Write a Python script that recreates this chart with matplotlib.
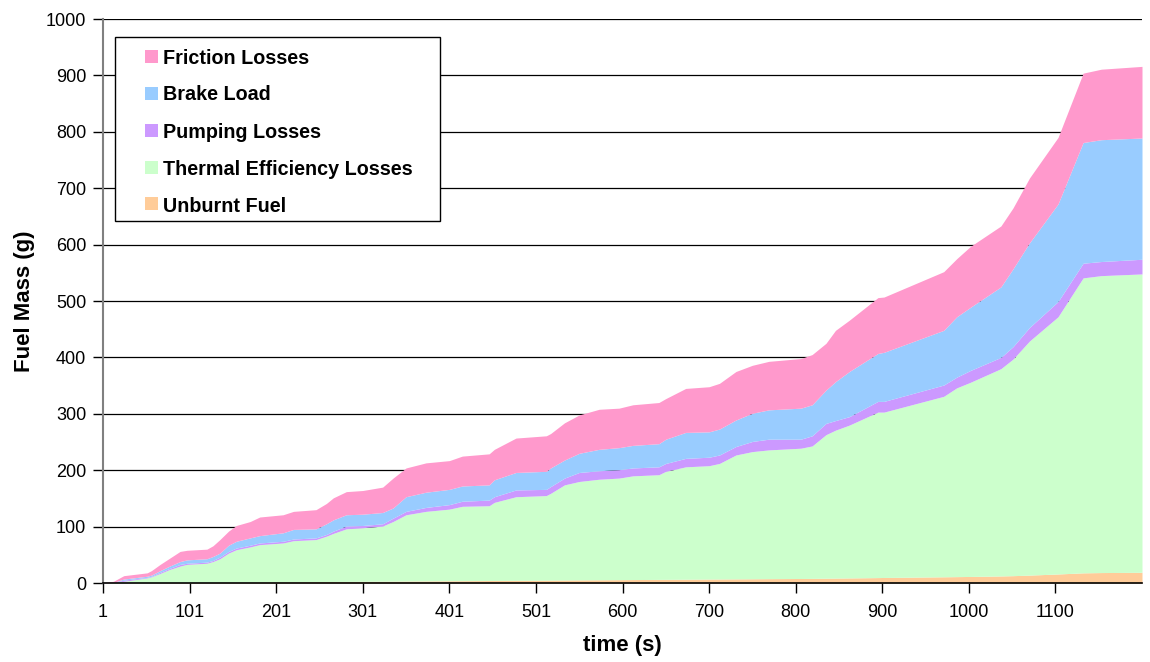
import numpy as np
import matplotlib.pyplot as plt
from matplotlib.patches import Rectangle

plt.rcParams['font.family'] = ['Liberation Sans', 'DejaVu Sans']

# time positions (s) and the top edge of each stacked band (g)
time = [1, 13, 25, 52, 57, 67, 78, 90, 98, 121, 128, 136, 146, 155, 171, 182,
        209, 221, 247, 259, 267, 282, 301, 324, 336, 351, 374, 401, 416, 447,
        453, 478, 513, 518, 534, 551, 574, 597, 613, 643, 651, 674, 701, 713,
        732, 751, 770, 807, 820, 836, 847, 863, 896, 903, 972, 987, 1003, 1038,
        1052, 1071, 1104, 1133, 1154, 1201]

unburnt_top = [0, 0, 0.3, 0.5, 0.5, 0.7, 0.8, 0.9, 1, 1.2, 1.3, 1.4, 1.5, 1.6,
               1.7, 1.8, 2.1, 2.2, 2.5, 2.6, 2.7, 2.8, 3, 3.2, 3.3, 3.5, 3.7, 4,
               4.1, 4.4, 4.5, 4.7, 5, 5.1, 5.3, 5.5, 5.7, 5.9, 6.1, 6.4, 6.5,
               6.7, 7, 7.1, 7.3, 7.5, 7.7, 8, 8.2, 8.5, 8.7, 9, 9.6, 9.8, 11,
               11.3, 11.6, 12.5, 13, 14, 16, 18, 18.5, 19]
thermal_top = [0, 1, 3, 9, 11, 17, 24, 30, 33, 35, 38, 43, 53, 59, 64, 68, 71,
               75, 77, 83, 88, 96, 98, 101, 109, 121, 127, 131, 136, 137, 143,
               153, 155, 159, 174, 180, 184, 186, 190, 192, 198, 206, 208, 212,
               227, 233, 236, 239, 243, 263, 271, 280, 303, 303, 331, 346, 356,
               380, 397, 429, 472, 541, 545, 548]
pumping_top = [0, 1, 5, 10, 12, 19, 26, 33, 35, 37, 40, 46, 56, 62, 67, 71, 74,
               78, 80, 86, 92, 101, 102, 105, 115, 127, 134, 139, 145, 147, 153,
               165, 166, 171, 186, 196, 199, 201, 204, 206, 212, 221, 223, 227,
               242, 251, 255, 255, 261, 283, 288, 295, 322, 322, 351, 365, 377,
               400, 419, 453, 499, 567, 570, 574]
brake_top = [0, 1, 7, 12, 14, 22, 30, 38, 41, 43, 47, 53, 67, 74, 80, 84, 89,
             95, 96, 105, 112, 121, 122, 125, 133, 153, 161, 166, 172, 174, 183,
             196, 198, 204, 218, 230, 237, 240, 244, 247, 255, 267, 268, 273,
             289, 301, 307, 310, 316, 342, 357, 375, 407, 409, 448, 472, 489,
             525, 557, 603, 672, 781, 786, 789]
friction_top = [0, 3, 13, 18, 22, 33, 44, 56, 58, 60, 66, 77, 92, 102, 109, 117,
                121, 127, 130, 141, 151, 162, 164, 170, 186, 204, 213, 217, 225,
                229, 237, 257, 261, 265, 284, 298, 308, 310, 316, 320, 327, 345,
                348, 354, 375, 386, 393, 398, 405, 425, 448, 466, 506, 507, 552,
                575, 597, 633, 665, 718, 790, 904, 911, 916]

labels = ['Unburnt Fuel', 'Thermal Efficiency Losses', 'Pumping Losses',
          'Brake Load', 'Friction Losses']
colors = ['#FFCC99', '#CCFFCC', '#CC99FF', '#99CCFF', '#FF99CC']

tick_pos = [1, 101, 201, 301, 401, 501, 601, 701, 801, 901, 1001, 1101]
tick_labels = ['1', '101', '201', '301', '401', '501', '600', '700', '800',
               '900', '1000', '1100']

W, H = 1150, 662
fig = plt.figure(figsize=(W / 100, H / 100), dpi=100)
ax = fig.add_axes([103 / W, 1 - 583 / H, (1142 - 103) / W, (583 - 19) / H])

tops = [np.zeros(len(time)), unburnt_top, thermal_top, pumping_top,
        brake_top, friction_top]
for i in range(5):
    ax.fill_between(time, tops[i], tops[i + 1], color=colors[i], lw=0, zorder=2)

ax.set_xlim(1, 1201)
ax.set_ylim(0, 1000)
ax.set_yticks(range(0, 1001, 100))
ax.set_xticks(tick_pos)
ax.set_xticklabels(tick_labels)
ax.tick_params(axis='both', labelsize=13, direction='out', length=7,
               width=1, color='black')
ax.tick_params(axis='x', pad=8)
ax.tick_params(axis='y', pad=5)
ax.yaxis.grid(True, color='black', lw=0.9, zorder=1)
ax.set_axisbelow(True)

for s in ['top', 'right']:
    ax.spines[s].set_visible(False)
ax.spines['left'].set_color('#808080')
ax.spines['left'].set_linewidth(1.5)
ax.spines['bottom'].set_color('black')
ax.spines['bottom'].set_linewidth(1.2)
ax.spines['bottom'].set_zorder(5)

ax.set_ylabel('Fuel Mass (g)', fontsize=16, fontweight='bold', labelpad=8)
ax.set_xlabel('time (s)', fontsize=16, fontweight='bold', labelpad=10)

# legend box, drawn in figure pixels like the Excel one
def fx(px):
    return px / W

def fy(py):
    return 1 - py / H

fig.patches.append(Rectangle((fx(115), fy(221)), fx(440) - fx(115),
                             fy(37) - fy(221), transform=fig.transFigure,
                             facecolor='white', edgecolor='black', lw=1,
                             zorder=10))
rows = [56, 93, 130, 167, 204]
for row, i in zip(rows, range(4, -1, -1)):
    fig.patches.append(Rectangle((fx(145), fy(row + 6.5)), 13 / W, 13 / H,
                                 transform=fig.transFigure,
                                 facecolor=colors[i], edgecolor='none',
                                 zorder=11))
    fig.text(fx(163), fy(row), labels[i], fontsize=14.2, fontweight='bold',
             va='center_baseline', ha='left', zorder=12)

fig.savefig('out.png', dpi=100)
